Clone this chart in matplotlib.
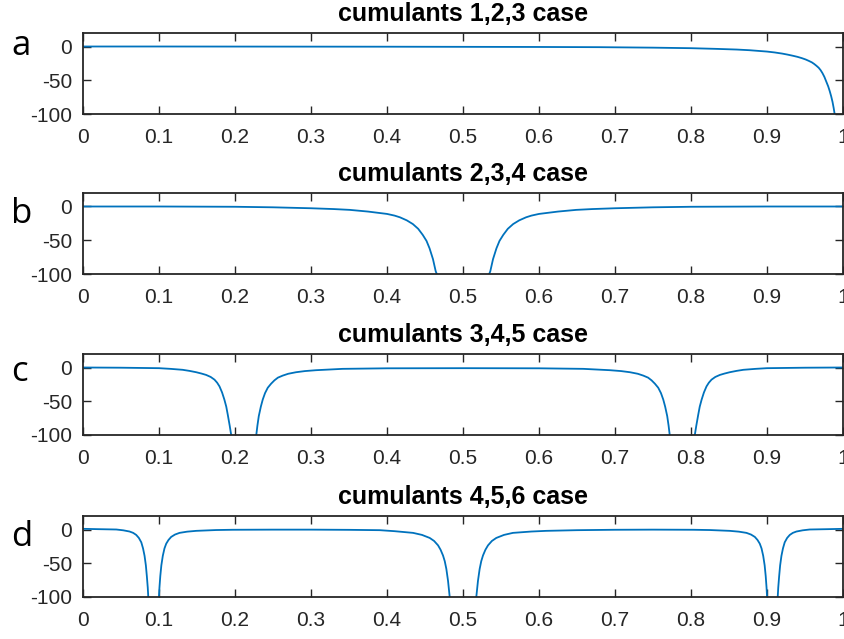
import matplotlib
matplotlib.use("Agg")
import matplotlib.pyplot as plt
import numpy as np

# --- panel a: cumulants 1,2,3 ---
a_x = [0, 0.1, 0.2, 0.3, 0.4, 0.5, 0.6, 0.68, 0.75, 0.8, 0.833, 0.86, 0.877,
       0.9, 0.91, 0.92, 0.927, 0.934, 0.94, 0.946, 0.951, 0.955, 0.959, 0.962,
       0.965, 0.968, 0.9705, 0.973, 0.9755, 0.978, 0.9805, 0.9825, 0.9845,
       0.9862, 0.9877, 0.989]
a_y = [0, 0, -0.1, -0.2, -0.3, -0.5, -0.7, -1, -1.7, -2.5, -3.5, -4.5, -5.5,
       -7.5, -8.8, -10.5, -12, -13.7, -15.3, -17.3, -19.3, -21.3, -23.5, -25.8,
       -28.5, -31.5, -35, -39.5, -45, -52, -59, -66, -74, -82, -91, -100]

# --- panel b: cumulants 2,3,4 ---
b1_x = [0, 0.1, 0.2, 0.25, 0.3, 0.33, 0.351, 0.375, 0.4, 0.41, 0.417, 0.426,
        0.434, 0.441, 0.447, 0.452, 0.456, 0.4605, 0.4641, 0.4655]
b1_y = [0, 0, -0.4, -1.2, -2.6, -3.8, -5, -7.5, -11, -13.5, -16, -20.5,
        -26, -33, -42, -51, -62, -78, -96, -100]
b2_x = [0.5345, 0.5359, 0.5395, 0.544, 0.548, 0.553, 0.559, 0.566, 0.574,
        0.583, 0.59, 0.6, 0.625, 0.649, 0.67, 0.7, 0.75, 0.8, 0.9, 1.0]
b2_y = [-100, -96, -78, -62, -51, -42, -33, -26, -20.5,
        -16, -13.5, -11, -7.5, -5, -3.8, -2.6, -1.2, -0.4, 0, 0]

# --- panel c: cumulants 3,4,5 ---
c1_x = [0, 0.05, 0.1, 0.115, 0.131, 0.14, 0.149, 0.156, 0.162, 0.168, 0.173,
        0.1765, 0.1796, 0.183, 0.186, 0.1885, 0.1905, 0.193, 0.195]
c1_y = [0, -0.3, -1, -2, -3.4, -5, -7, -9, -11, -14, -18,
        -22.5, -28, -37, -47.5, -58, -70, -86, -100]
c2_x = [0.228, 0.2295, 0.2313, 0.234, 0.2365, 0.2395, 0.2431, 0.2475, 0.2519,
        0.2565, 0.2628, 0.27, 0.2803, 0.292, 0.3066, 0.3416, 0.4, 0.5, 0.6,
        0.6584, 0.6934, 0.708, 0.7197, 0.73, 0.7372, 0.7435, 0.7481, 0.7525,
        0.7569, 0.7605, 0.7635, 0.766, 0.7687, 0.7705, 0.772]
c2_y = [-100, -86, -72, -58, -47.5, -38, -30, -24, -19,
        -15, -12, -9.3, -7, -5.3, -4, -2, -1.2, -1, -1.2,
        -2, -4, -5.3, -7, -9.3, -12, -15, -19, -24,
        -30, -38, -47.5, -58, -72, -86, -100]
c3_x = [0.805, 0.807, 0.8095, 0.8115, 0.814, 0.817, 0.8204, 0.8235, 0.827,
        0.832, 0.838, 0.844, 0.851, 0.86, 0.869, 0.885, 0.9, 0.95, 1.0]
c3_y = [-100, -86, -70, -58, -47.5, -37, -28, -22.5, -18,
        -14, -11, -9, -7, -5, -3.4, -2, -1, -0.3, 0]

# --- panel d: cumulants 4,5,6 ---
d1_x = [0, 0.02, 0.0438, 0.053, 0.0613, 0.066, 0.070, 0.0735, 0.0767, 0.079,
        0.081, 0.0827, 0.084, 0.0852, 0.0859]
d1_y = [1, 0.5, 0, -1.2, -3, -5, -8, -12.5, -19, -28,
        -39, -53, -69, -86, -100]
d2_x = [0.0999, 0.1006, 0.1017, 0.1031, 0.105, 0.1072, 0.1095, 0.1125, 0.116,
        0.121, 0.127, 0.137, 0.149, 0.175, 0.197, 0.25, 0.3, 0.35, 0.3905,
        0.41, 0.4343, 0.446, 0.4562, 0.462, 0.4672, 0.4705, 0.4737, 0.476,
        0.4781, 0.4803, 0.4825]
d2_y = [-100, -86, -69, -53, -39, -28, -21, -15.5, -11,
        -7.5, -5, -3.2, -2, -0.8, -0.4, -0.2, -0.2, -0.5, -1,
        -2.5, -5, -8, -12.5, -17, -23.5, -30, -38.5, -47,
        -58.5, -76, -100]
d3_x = [0.5175, 0.5197, 0.5219, 0.524, 0.5263, 0.5295, 0.5329, 0.538, 0.5438,
        0.554, 0.5657, 0.59, 0.6095, 0.65, 0.7, 0.75, 0.803, 0.825, 0.851,
        0.863, 0.873, 0.879, 0.884, 0.8875, 0.8905, 0.8928, 0.895, 0.8969,
        0.8983, 0.8994, 0.9001]
d3_y = [-100, -76, -58.5, -47, -38.5, -30, -23.5, -17, -12.5,
        -8, -5, -3, -2, -1, -0.4, -0.2, -0.4, -0.8, -2,
        -3.2, -5, -7.5, -11, -15.5, -21, -28, -39, -53,
        -69, -86, -100]
d4_x = [0.9141, 0.9148, 0.916, 0.9173, 0.919, 0.921, 0.9233, 0.9265, 0.93,
        0.934, 0.9387, 0.947, 0.9562, 0.98, 1.0]
d4_y = [-100, -86, -69, -53, -39, -28, -19, -12.5, -8,
        -5, -3, -1.2, 0, 0.5, 1]

titles = ['cumulants 1,2,3 case', 'cumulants 2,3,4 case',
          'cumulants 3,4,5 case', 'cumulants 4,5,6 case']
letters = ['a', 'b', 'c', 'd']
segments = [
    [(a_x, a_y)],
    [(b1_x, b1_y), (b2_x, b2_y)],
    [(c1_x, c1_y), (c2_x, c2_y), (c3_x, c3_y)],
    [(d1_x, d1_y), (d2_x, d2_y), (d3_x, d3_y), (d4_x, d4_y)],
]
xticks = np.arange(0, 1.01, 0.1)
xticklabels = ['0', '0.1', '0.2', '0.3', '0.4', '0.5', '0.6', '0.7', '0.8', '0.9', '1']
yticks = [-100, -50, 0]

W, H = 845, 639
axes_top = [33, 193, 354, 516]      # pixel rows of the top of each box
axes_h = 81
left, right = 83, 843
letter_base = [55, 223, 381, 546]

axcol = '#262626'
plt.rcParams['font.family'] = ['Liberation Sans', 'DejaVu Sans']
plt.rcParams['axes.unicode_minus'] = False

fig = plt.figure(figsize=(W / 100, H / 100), dpi=100)

for k in range(4):
    ax = fig.add_axes([left / W, 1 - (axes_top[k] + axes_h) / H,
                       (right - left) / W, axes_h / H])
    for sx, sy in segments[k]:
        ax.plot(sx, sy, color='#0072BD', lw=1.3)
    ax.set_xlim(0, 1)
    ax.set_ylim(-100, 20)
    ax.set_xticks(xticks)
    ax.set_xticklabels(xticklabels)
    ax.set_yticks(yticks)
    ax.tick_params(direction='in', length=5.5, width=1.0, colors=axcol,
                   labelsize=15, top=True, right=True)
    ax.tick_params(axis='x', pad=10)
    ax.tick_params(axis='y', pad=8)
    for s in ax.spines.values():
        s.set_color(axcol)
        s.set_linewidth(1.3)
    ax.set_title(titles[k], fontsize=18, fontweight='bold', pad=8.5)
    fig.text(11 / W, 1 - letter_base[k] / H, letters[k], fontsize=25,
             family='Open Sans', va='baseline', ha='left')

fig.savefig('out.png', dpi=100)
